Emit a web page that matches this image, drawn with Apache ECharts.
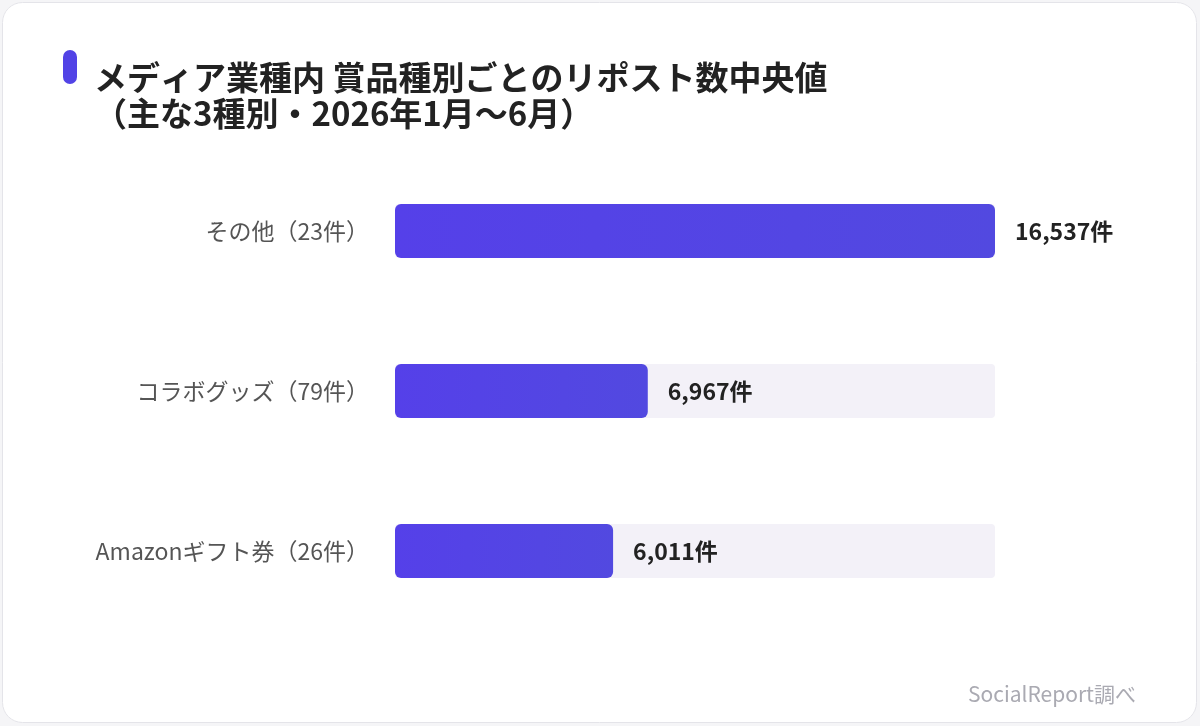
<!DOCTYPE html>
<html lang="ja">
<head>
    <meta charset="UTF-8">
    <title>賞品種別ごとのリポスト数中央値</title>
    <style>
        html,body{
            margin: 0;
            width: 100%;
            height: 100%;
            background: #f5f5f7;
        }
        #chartmain{
            width: 1200px;
            height: 726px;
        }
    </style>
</head>
<body>
<div id="chartmain"></div>
<script src="https://cdn.jsdelivr.net/npm/echarts@6/dist/echarts.min.js"></script>
<script type="text/javascript">
    // データ
    var categories = ['その他（23件）', 'コラボグッズ（79件）', 'Amazonギフト券（26件）'];
    var values = [16537, 6967, 6011];

    var font = '"Noto Sans CJK JP", "Noto Sans", sans-serif';

    var option = {
        backgroundColor: 'transparent',
        title: {
            text: 'メディア業種内 賞品種別ごとのリポスト数中央値\n（主な3種別・2026年1月〜6月）',
            left: 89,
            top: 54,
            textStyle: {
                fontFamily: font,
                fontSize: 33,
                fontWeight: 'bold',
                color: '#222',
                lineHeight: 36
            }
        },
        graphic: [
            {
                type: 'rect',
                z: -10,
                shape: {x: 2.5, y: 2.5, width: 1194, height: 720, r: 20},
                style: {fill: '#fff', stroke: '#e4e4e9', lineWidth: 1}
            },
            {
                type: 'rect',
                shape: {x: 63, y: 50, width: 14, height: 34, r: 7},
                style: {fill: '#5243e6'}
            },
            {
                type: 'text',
                right: 64,
                top: 684,
                style: {
                    text: 'SocialReport調べ',
                    font: '21px ' + font,
                    fill: '#aaaab2'
                }
            }
        ],
        grid: {
            left: 395,
            right: 205,
            top: 151,
            bottom: 95
        },
        xAxis: {
            type: 'value',
            min: 0,
            max: 16537,
            show: false
        },
        yAxis: {
            type: 'category',
            data: categories,
            inverse: true,
            axisLine: {show: false},
            axisTick: {show: false},
            axisLabel: {
                margin: 26,
                fontFamily: font,
                fontSize: 23,
                color: '#555'
            }
        },
        series: [{
            type: 'bar',
            data: values,
            barWidth: 54,
            showBackground: true,
            backgroundStyle: {
                color: '#f3f1f8',
                borderRadius: 4
            },
            itemStyle: {
                borderRadius: 6,
                color: new echarts.graphic.LinearGradient(0, 0, 1, 0, [
                    {offset: 0, color: '#5540e9'},
                    {offset: 1, color: '#5249e0'}
                ])
            },
            label: {
                show: true,
                position: 'right',
                distance: 20,
                fontFamily: font,
                fontSize: 23,
                fontWeight: 'bold',
                color: '#222',
                formatter: function (p) {
                    return p.value.toLocaleString('en-US') + '件';
                }
            }
        }]
    };

    var myChart = echarts.init(document.getElementById('chartmain'));
    myChart.setOption(option);
</script>
</body>
</html>
